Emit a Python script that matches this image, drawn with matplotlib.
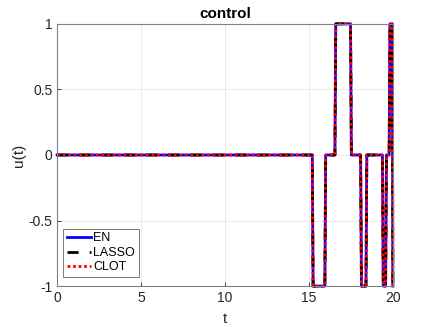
import numpy as np
import matplotlib.pyplot as plt

plt.rcParams['font.family'] = ['Liberation Sans', 'DejaVu Sans']

# switching times and control levels
t = [0, 15.2, 15.25, 15.95, 16.0, 16.55, 16.6, 17.48, 17.53, 18.08, 18.13,
     18.4, 18.45, 19.38, 19.43, 19.57, 19.62, 19.78, 19.83, 19.97, 20.0]
u_en = [0, 0, -1, -1, 0, 0, 1, 1, 0, 0, -1, -1, 0, 0, -1, -1, 0, 0, 1, 1, -1]
u_lasso = list(u_en)
u_clot = list(u_en)

xticks = [0, 5, 10, 15, 20]
yticks = [-1, -0.5, 0, 0.5, 1]

fig = plt.figure(figsize=(4.36, 3.27), dpi=100)
ax = fig.add_axes([0.131, 0.125, 0.770, 0.802])

ax.plot(t, u_en, color='b', lw=2, label='EN', clip_on=False)
ax.plot(t, u_lasso, color='k', lw=2, ls=(0, (4, 4)), label='LASSO', clip_on=False)
ax.plot(t, u_clot, color='r', lw=2, ls=(0, (1, 1)), label='CLOT', clip_on=False)

ax.set_xlim(0, 20)
ax.set_ylim(-1, 1)
ax.set_xticks(xticks)
ax.set_yticks(yticks)
ax.set_yticklabels(['-1', '-0.5', '0', '0.5', '1'])
ax.grid(True, color='#e6e6e6', lw=0.6)
ax.set_axisbelow(True)
ax.tick_params(direction='in', length=3, labelsize=10, colors='#262626', width=0.6)
for s in ax.spines.values():
    s.set_color('#808080')
    s.set_linewidth(0.8)

ax.set_xlabel('t', fontsize=11, color='#262626', labelpad=5)
ax.set_ylabel('u(t)', fontsize=11, color='#262626', labelpad=2)
ax.set_title('control', fontsize=11, fontweight='bold', pad=4)

leg = ax.legend(loc='lower left', fontsize=9, handlelength=1.9, handletextpad=0.2,
                borderpad=0.3, labelspacing=0.2, fancybox=False, borderaxespad=0,
                bbox_to_anchor=(0.018, 0.034))
leg.get_frame().set_edgecolor('#404040')
leg.get_frame().set_linewidth(0.6)

fig.savefig('out.png', dpi=100)
